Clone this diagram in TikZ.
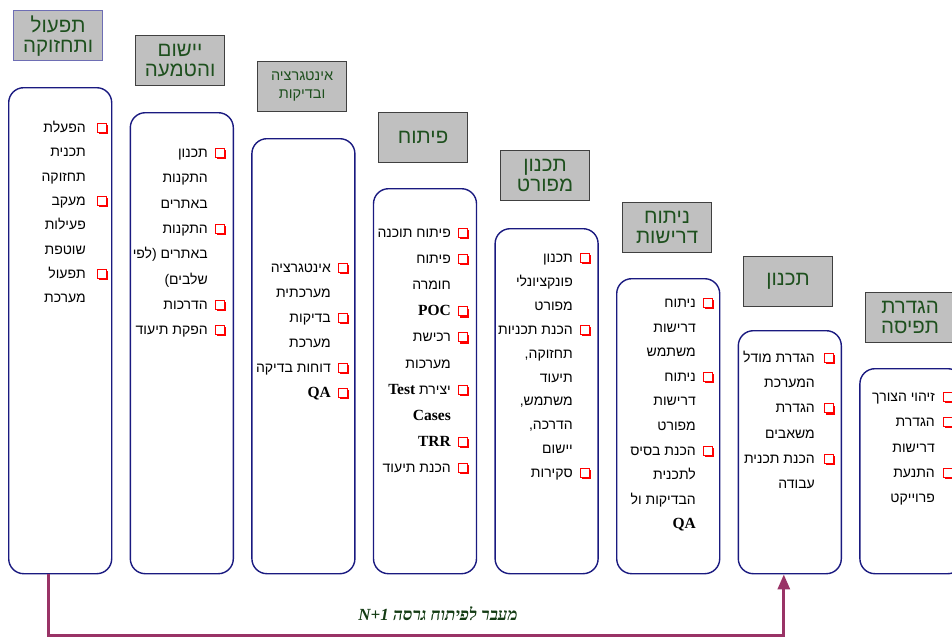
\documentclass[tikz,border=0pt]{standalone}
\usepackage{fontspec}
\usetikzlibrary{arrows.meta,shadows}
\TeXXeTstate=1
\newfontfamily\hebfont[Script=Hebrew]{Liberation Sans}
\newfontfamily\enfont{Liberation Serif}
\newfontfamily\lblfont[Script=Hebrew]{Liberation Serif}
\definecolor{hdrgray}{RGB}{192,192,192}
\definecolor{hdrtext}{RGB}{30,80,30}
\definecolor{hdrone}{RGB}{110,110,180}
\definecolor{boxblue}{RGB}{26,26,128}
\definecolor{flowc}{RGB}{153,51,102}
\definecolor{lbltext}{RGB}{20,60,20}
\newcommand{\EN}[1]{{\enfont\bfseries\fontsize{15.5}{16}\selectfont #1}}
\newcommand{\colitems}[6]{%
  \foreach \fl/\tx [count=\k] in {#6} {%
    \pgfmathsetmacro\yy{#4+(\k-1)*#5}%
    \node[txt] (#1t\k) at (#2,\yy+4.5) {\tx};
    \ifnum\fl=1 \node[cb] (#1c\k) at (#3,\yy) {};\fi
  }}
\begin{document}
\begin{tikzpicture}[x=1pt,y=-1pt,
  hdr/.style={rectangle, fill=hdrgray, draw=black!75, line width=1.2pt,
    minimum width=89pt, minimum height=50pt, inner sep=0pt, text=hdrtext,
    align=center, anchor=north west, font=\hebfont\fontsize{20.5}{20}\selectfont},
  colbox/.style={rectangle, rounded corners=15pt, draw=boxblue, line width=1.4pt,
    minimum width=103pt, inner sep=0pt, anchor=north west},
  txt/.style={anchor=base east, inner sep=0pt, font=\hebfont\fontsize{14}{16}\selectfont},
  cb/.style={rectangle, draw=red, fill=white, line width=1.1pt, minimum size=9pt,
    inner sep=0pt, drop shadow={shadow xshift=1.7pt, shadow yshift=-1.7pt, fill=red, opacity=1}},
  flow/.style={draw=flowc, line width=3pt, -{Triangle[length=15pt,width=12pt]}},
  lbl/.style={font=\lblfont\bfseries\itshape\fontsize{17}{18}\selectfont, text=lbltext}
]
\useasboundingbox (0,0) rectangle (952,637);
\clip (0,0) rectangle (952,637);
% column boxes
\foreach \i/\top in {1/87,2/112,3/138,4/188,5/228,6/278,7/330,8/368} {
  \pgfmathsetmacro\lx{8+121.6*(\i-1)}
  \node[colbox, minimum height={573-\top}] (b\i) at (\lx,\top) {};
}
% headers
\node[hdr, draw=hdrone] (h1) at (13,10) {\beginR תפעול\endR\\\beginR ותחזוקה\endR};
\node[hdr] (h2) at (135,35) {\beginR יישום\endR\\\beginR והטמעה\endR};
\node[hdr, font=\hebfont\fontsize{14.5}{18}\selectfont] (h3) at (257,61) {\beginR אינטגרציה\endR\\\beginR ובדיקות\endR};
\node[hdr] (h4) at (378,112) {\beginR פיתוח\endR};
\node[hdr] (h5) at (500,150) {\beginR תכנון\endR\\\beginR מפורט\endR};
\node[hdr] (h6) at (622,202) {\beginR ניתוח\endR\\\beginR דרישות\endR};
\node[hdr] (h7) at (743,256) {\beginR תכנון\endR};
\node[hdr] (h8) at (865,292) {\beginR הגדרת\endR\\\beginR תפיסה\endR};
% items
\colitems{b1}{86}{102}{128}{24.3}{1/{\beginR הפעלת\endR},0/{\beginR תכנית\endR},0/{\beginR תחזוקה\endR},1/{\beginR מעקב\endR},0/{\beginR פעילות\endR},0/{\beginR שוטפת\endR},1/{\beginR תפעול\endR},0/{\beginR מערכת\endR}}
\colitems{b2}{208}{220}{153}{25.3}{1/{\beginR תכנון\endR},0/{\beginR התקנות\endR},0/{\beginR באתרים\endR},1/{\beginR התקנות\endR},0/{\beginR באתרים (לפי\endR},0/{\beginR שלבים)\endR},1/{\beginR הדרכות\endR},1/{\beginR הפקת תיעוד\endR}}
\colitems{b3}{331}{343}{268}{25}{1/{\beginR אינטגרציה\endR},0/{\beginR מערכתית\endR},1/{\beginR בדיקות\endR},0/{\beginR מערכת\endR},1/{\beginR דוחות בדיקה\endR},1/{\EN{QA}}}
\colitems{b4}{451}{463}{233}{26.1}{1/{\beginR פיתוח תוכנה\endR},1/{\beginR פיתוח\endR},0/{\beginR חומרה\endR},1/{\EN{POC}},1/{\beginR רכישת\endR},0/{\beginR מערכות\endR},1/{\beginR יצירת \beginL\EN{Test}\endL\endR},0/{\EN{Cases}},1/{\EN{TRR}},1/{\beginR הכנת תיעוד\endR}}
\colitems{b5}{573}{585}{258}{23.9}{1/{\beginR תכנון\endR},0/{\beginR פונקציונלי\endR},0/{\beginR מפורט\endR},1/{\beginR הכנת תכניות\endR},0/{\beginR תחזוקה,\endR},0/{\beginR תיעוד\endR},0/{\beginR משתמש,\endR},0/{\beginR הדרכה,\endR},0/{\beginR יישום\endR},1/{\beginR סקירות\endR}}
\colitems{b6}{696}{708}{303}{24.6}{1/{\beginR ניתוח\endR},0/{\beginR דרישות\endR},0/{\beginR משתמש\endR},1/{\beginR ניתוח\endR},0/{\beginR דרישות\endR},0/{\beginR מפורט\endR},1/{\beginR הכנת בסיס\endR},0/{\beginR לתכנית\endR},0/{\beginR הבדיקות ול\endR},0/{\EN{QA}}}
\colitems{b7}{815}{829}{358}{25.2}{1/{\beginR הגדרת מודל\endR},0/{\beginR המערכת\endR},1/{\beginR הגדרת\endR},0/{\beginR משאבים\endR},1/{\beginR הכנת תכנית\endR},0/{\beginR עבודה\endR}}
\colitems{b8}{935}{948}{397}{25.25}{1/{\beginR זיהוי הצורך\endR},1/{\beginR הגדרת\endR},0/{\beginR דרישות\endR},1/{\beginR התנעת\endR},0/{\beginR פרוייקט\endR}}
% feedback arrow
\draw[flow] ([xshift=-11.5pt]b1.south) -- ++(0,61) -| ([xshift=-6pt]b7.south);
\node[lbl] (lab) at (438,614) {\beginR מעבר לפיתוח גרסה \beginL N+1\endL\endR};
\end{tikzpicture}
\end{document}
